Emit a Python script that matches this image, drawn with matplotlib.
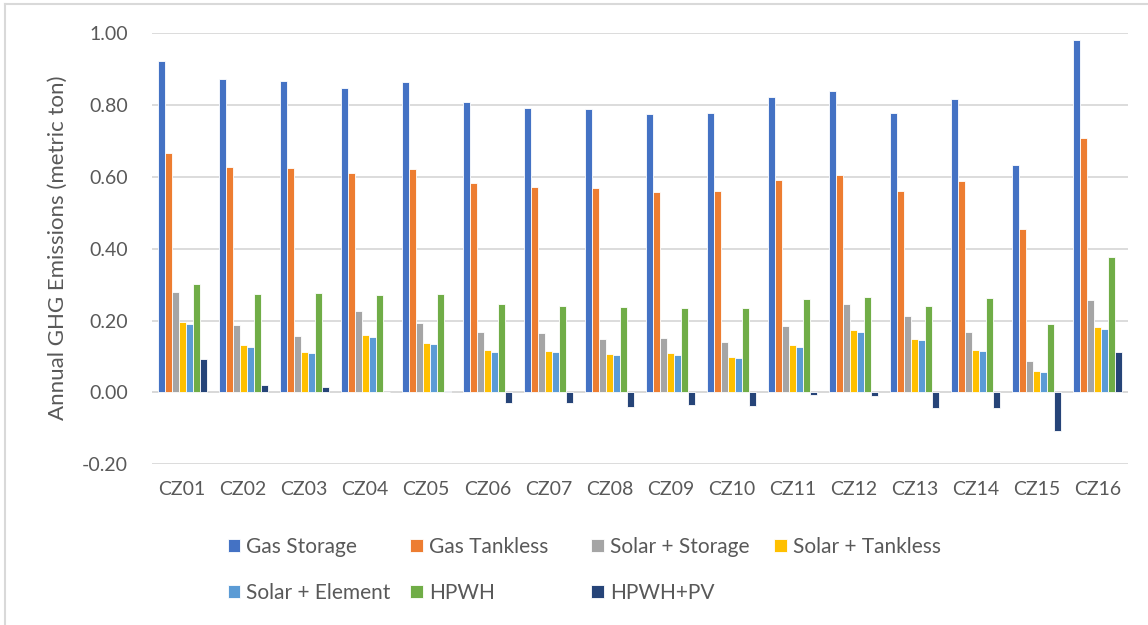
import numpy as np
from matplotlib import pyplot as plt

plt.rcParams['font.family'] = ['Lato', 'DejaVu Sans']

zones = ['CZ01', 'CZ02', 'CZ03', 'CZ04', 'CZ05', 'CZ06', 'CZ07', 'CZ08',
         'CZ09', 'CZ10', 'CZ11', 'CZ12', 'CZ13', 'CZ14', 'CZ15', 'CZ16']

gas_storage = [0.924, 0.872, 0.866, 0.847, 0.864, 0.809, 0.792, 0.788,
               0.776, 0.778, 0.823, 0.840, 0.778, 0.817, 0.633, 0.981]
gas_tankless = [0.666, 0.629, 0.625, 0.610, 0.621, 0.582, 0.572, 0.568,
                0.559, 0.561, 0.592, 0.605, 0.561, 0.588, 0.455, 0.708]
solar_storage = [0.279, 0.187, 0.158, 0.226, 0.193, 0.167, 0.165, 0.149,
                 0.152, 0.140, 0.185, 0.247, 0.213, 0.169, 0.086, 0.257]
solar_tankless = [0.195, 0.131, 0.111, 0.160, 0.136, 0.117, 0.115, 0.107,
                  0.109, 0.098, 0.131, 0.174, 0.149, 0.118, 0.059, 0.181]
solar_element = [0.190, 0.127, 0.109, 0.154, 0.134, 0.113, 0.111, 0.103,
                 0.105, 0.096, 0.126, 0.168, 0.146, 0.115, 0.058, 0.175]
hpwh = [0.302, 0.274, 0.276, 0.272, 0.274, 0.247, 0.240, 0.238,
        0.235, 0.235, 0.260, 0.266, 0.240, 0.262, 0.190, 0.376]
hpwh_pv = [0.094, 0.020, 0.014, 0.000, 0.005, -0.029, -0.031, -0.040,
           -0.034, -0.038, -0.007, -0.011, -0.043, -0.043, -0.107, 0.113]

series = [
    ('Gas Storage', gas_storage, '#4472C4'),
    ('Gas Tankless', gas_tankless, '#ED7D31'),
    ('Solar + Storage', solar_storage, '#A5A5A5'),
    ('Solar + Tankless', solar_tankless, '#FFC000'),
    ('Solar + Element', solar_element, '#5B9BD5'),
    ('HPWH', hpwh, '#70AD47'),
    ('HPWH+PV', hpwh_pv, '#264478'),
]

text_color = '#595959'
grid_color = '#D9D9D9'

fig = plt.figure(figsize=(11.48, 6.25), dpi=100)
ax = fig.add_axes([0.1321, 0.2574, 0.8505, 0.6893])

x = np.arange(len(zones))
width = 0.1147
handles = []
for i, (name, vals, color) in enumerate(series):
    offset = (i - 3) * width
    b = ax.bar(x + offset, vals, width, color=color, edgecolor='white',
               linewidth=0.6, label=name, zorder=3)
    handles.append(b)

ax.set_xlim(-0.5, len(zones) - 0.5)
ax.set_ylim(-0.2, 1.0)
ax.set_yticks(np.arange(-0.2, 1.01, 0.2))
ax.set_yticklabels([f'{v:.2f}' for v in np.arange(-0.2, 1.01, 0.2)])
ax.set_xticks(x)
ax.set_xticklabels(zones)
ax.tick_params(axis='both', length=0, labelsize=14, labelcolor=text_color)
ax.tick_params(axis='y', pad=17)
ax.tick_params(axis='x', pad=12)
ax.yaxis.grid(True, color=grid_color, linewidth=1.3, zorder=0)
ax.axhline(0, color=grid_color, linewidth=1.3, zorder=2)
for s in ax.spines.values():
    s.set_visible(False)

fig.text(0.0505, 0.6028, 'Annual GHG Emissions (metric ton)', rotation=90,
         ha='center', va='center', fontsize=16, color=text_color)

# Excel style legend: four evenly spaced columns, filled row by row
col_x = [227.5, 410, 591, 774]
for c in range(4):
    idx = [k for k in (c, c + 4) if k < len(handles)]
    leg = fig.legend([handles[k] for k in idx], [series[k][0] for k in idx],
                     loc='upper left', bbox_to_anchor=(col_x[c] / 1148, 1 - 537 / 625),
                     frameon=False, fontsize=15, handlelength=0.6,
                     handleheight=0.6, handletextpad=0.3, borderpad=0,
                     borderaxespad=0, labelspacing=1.25, labelcolor=text_color)

# chart frame (top and left edges visible)
fig.add_artist(plt.Line2D([5 / 1148, 1], [1 - 4 / 625] * 2, transform=fig.transFigure,
                          color=grid_color, linewidth=1.5))
fig.add_artist(plt.Line2D([5 / 1148] * 2, [0, 1 - 4 / 625], transform=fig.transFigure,
                          color=grid_color, linewidth=1.5))

plt.savefig('out.png', dpi=100)
